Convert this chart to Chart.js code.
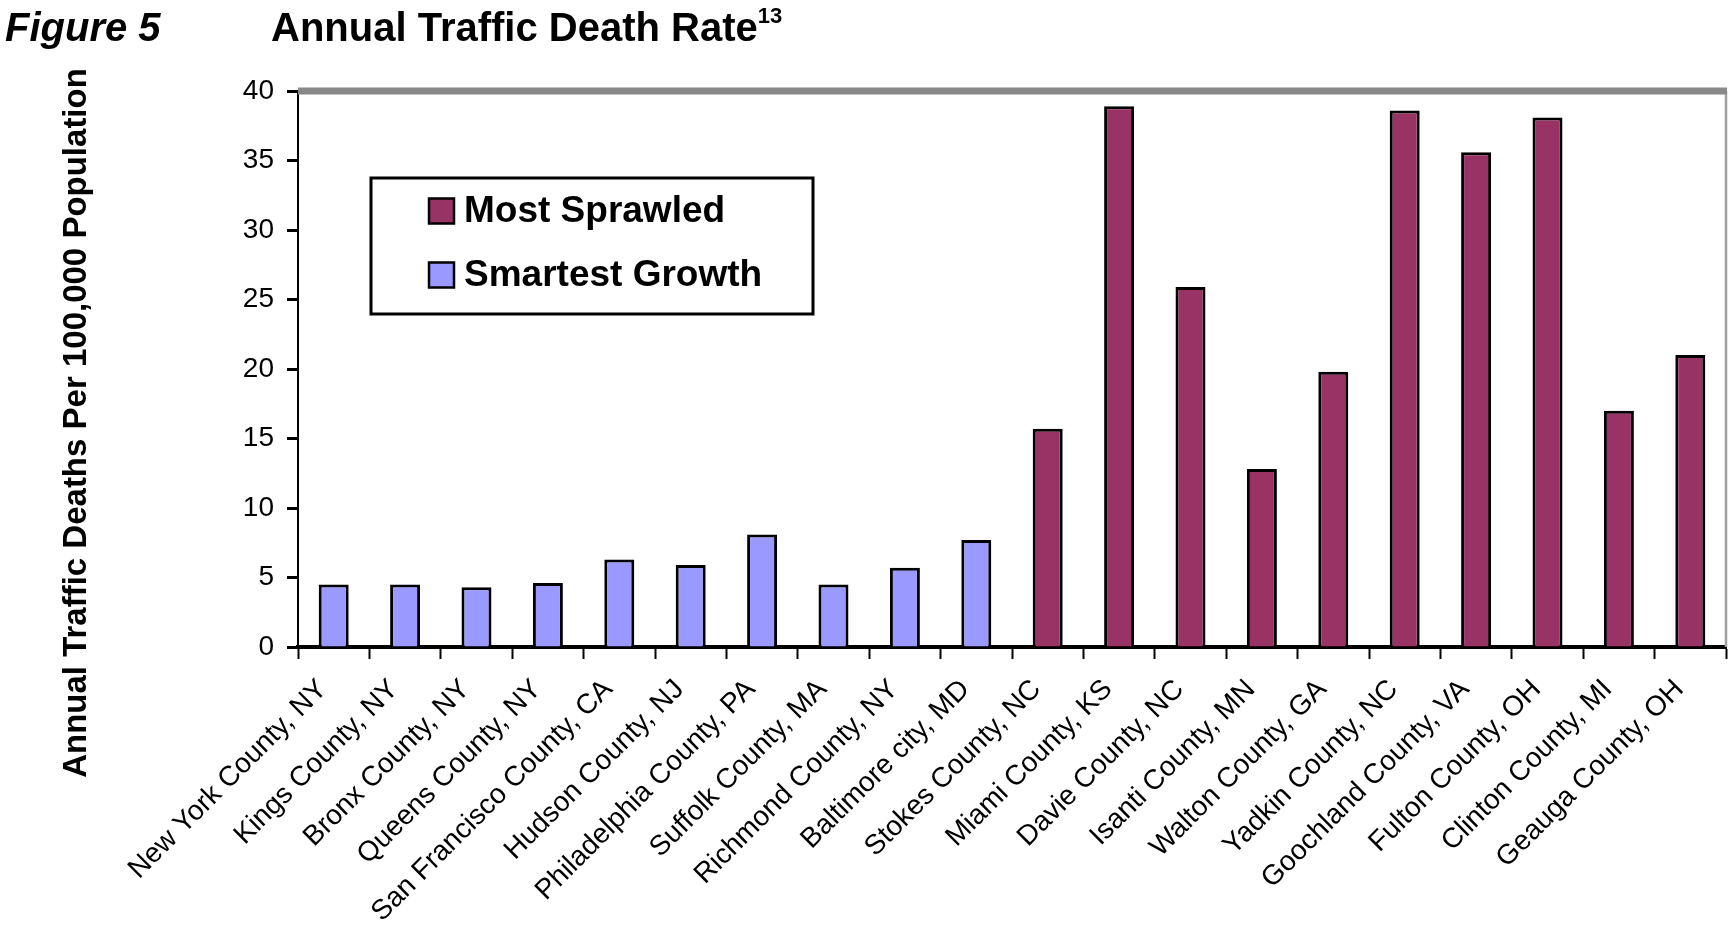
<!DOCTYPE html>
<html>
<head>
<meta charset="utf-8">
<title>Annual Traffic Death Rate</title>
<script src="https://cdn.jsdelivr.net/npm/chart.js@4.4.1/dist/chart.umd.min.js"></script>
<style>
  body { margin: 0; background: #fff; }
  #wrap { position: relative; width: 1734px; height: 928px; }
  #fig { position: absolute; left: 5px; top: 7px; font: italic bold 40px "Liberation Sans", Arial, sans-serif; line-height: 1; }
  #title { position: absolute; left: 271px; top: 7px; font: bold 40px "Liberation Sans", Arial, sans-serif; line-height: 1; white-space: nowrap; }
  #title span { font-size: 22px; position: relative; top: -18px; }
  canvas { position: absolute; left: 0; top: 0; }
</style>
</head>
<body>
<div id="wrap">
  <canvas id="chart" width="1734" height="928"></canvas>
  <div id="fig">Figure 5</div>
  <div id="title">Annual Traffic Death Rate<span>13</span></div>
</div>
<script>
// dados
const condados = [
  'New York County, NY', 'Kings County, NY', 'Bronx County, NY', 'Queens County, NY',
  'San Francisco County, CA', 'Hudson County, NJ', 'Philadelphia County, PA', 'Suffolk County, MA',
  'Richmond County, NY', 'Baltimore city, MD', 'Stokes County, NC', 'Miami County, KS',
  'Davie County, NC', 'Isanti County, MN', 'Walton County, GA', 'Yadkin County, NC',
  'Goochland County, VA', 'Fulton County, OH', 'Clinton County, MI', 'Geauga County, OH'
];
const smartestGrowth = [4.5, 4.5, 4.3, 4.6, 6.3, 5.9, 8.1, 4.5, 5.7, 7.7];
const mostSprawled = [15.7, 38.9, 25.9, 12.8, 19.8, 38.6, 35.6, 38.1, 17.0, 21.0];
const yTicks = [0, 5, 10, 15, 20, 25, 30, 35, 40];
const yTitle = 'Annual Traffic Deaths Per 100,000 Population';

const FONTE = '"Liberation Sans", Arial, Helvetica, sans-serif';
Chart.defaults.font.family = FONTE;
Chart.defaults.color = '#000';

// cada série ocupa só a sua parte do eixo
const vazio = n => new Array(n).fill(null);
const dadosSprawled = vazio(smartestGrowth.length).concat(mostSprawled);
const dadosSmart = smartestGrowth.concat(vazio(mostSprawled.length));

// moldura da área do gráfico (linha cinza em cima e à direita)
const moldura = {
  id: 'moldura',
  beforeDatasetsDraw(chart) {
    const { ctx, chartArea: a } = chart;
    ctx.save();
    ctx.strokeStyle = '#a0a0a0';
    ctx.lineWidth = 2.5;
    ctx.beginPath();
    ctx.moveTo(a.right, a.top);
    ctx.lineTo(a.right, a.bottom);
    ctx.stroke();
    ctx.strokeStyle = '#888';
    ctx.lineWidth = 7;
    ctx.beginPath();
    ctx.moveTo(a.left, a.top);
    ctx.lineTo(a.right + 1, a.top);
    ctx.stroke();
    ctx.restore();
  }
};

// título do eixo y, centrado na altura toda
const tituloY = {
  id: 'tituloY',
  afterDraw(chart) {
    const ctx = chart.ctx;
    ctx.save();
    ctx.translate(77, 423);
    ctx.rotate(-Math.PI / 2);
    ctx.font = 'bold 33px ' + FONTE;
    ctx.fillStyle = '#000';
    ctx.textAlign = 'center';
    ctx.textBaseline = 'middle';
    ctx.fillText(yTitle, 0, 0);
    ctx.restore();
  }
};

// legenda dentro da área do gráfico
const legendaCaixa = {
  id: 'legendaCaixa',
  afterDraw(chart) {
    const { ctx, chartArea: a } = chart;
    const x = a.left + 73, y = a.top + 87, w = 442, h = 136;
    ctx.save();
    ctx.fillStyle = '#fff';
    ctx.fillRect(x, y, w, h);
    ctx.strokeStyle = '#000';
    ctx.lineWidth = 3;
    ctx.strokeRect(x, y, w, h);
    ctx.font = 'bold 37px ' + FONTE;
    ctx.textBaseline = 'middle';
    chart.data.datasets.forEach((ds, i) => {
      const cy = y + 33 + i * 64;
      ctx.fillStyle = ds.backgroundColor;
      ctx.fillRect(x + 58, cy - 12.5, 25, 25);
      ctx.lineWidth = 2.5;
      ctx.strokeRect(x + 58, cy - 12.5, 25, 25);
      ctx.fillStyle = '#000';
      ctx.fillText(ds.label, x + 93, cy + 1);
    });
    ctx.restore();
  }
};

new Chart(document.getElementById('chart'), {
  type: 'bar',
  data: {
    labels: condados,
    datasets: [
      {
        label: 'Most Sprawled',
        data: dadosSprawled,
        backgroundColor: '#993366',
        borderColor: '#000',
        borderWidth: 3
      },
      {
        label: 'Smartest Growth',
        data: dadosSmart,
        backgroundColor: '#9999ff',
        borderColor: '#000',
        borderWidth: 3
      }
    ]
  },
  options: {
    responsive: false,
    animation: false,
    devicePixelRatio: 1,
    layout: { padding: { left: 0, right: 8, top: 91, bottom: 0 } },
    datasets: { bar: { grouped: false, barPercentage: 0.42, categoryPercentage: 1 } },
    plugins: {
      legend: { display: false },
      title: { display: false },
      tooltip: { enabled: false }
    },
    scales: {
      x: {
        afterFit(s) { s.height = 281; },
        border: { color: '#000', width: 4 },
        grid: {
          offset: true,
          drawOnChartArea: false,
          drawTicks: true,
          tickLength: 12,
          tickWidth: 2,
          tickColor: '#000'
        },
        ticks: {
          autoSkip: false,
          minRotation: 45,
          maxRotation: 45,
          padding: 14,
          labelOffset: -11,
          font: { size: 28 }
        }
      },
      y: {
        min: 0,
        max: 40,
        afterFit(s) { s.width = 298; },
        afterBuildTicks(s) { s.ticks = yTicks.map(v => ({ value: v })); },
        border: { color: '#000', width: 2 },
        grid: {
          drawOnChartArea: false,
          drawTicks: true,
          tickLength: 11,
          tickWidth: 3,
          tickColor: '#000'
        },
        ticks: {
          padding: 13,
          font: { size: 28 }
        }
      }
    }
  },
  plugins: [moldura, tituloY, legendaCaixa]
});
</script>
</body>
</html>
